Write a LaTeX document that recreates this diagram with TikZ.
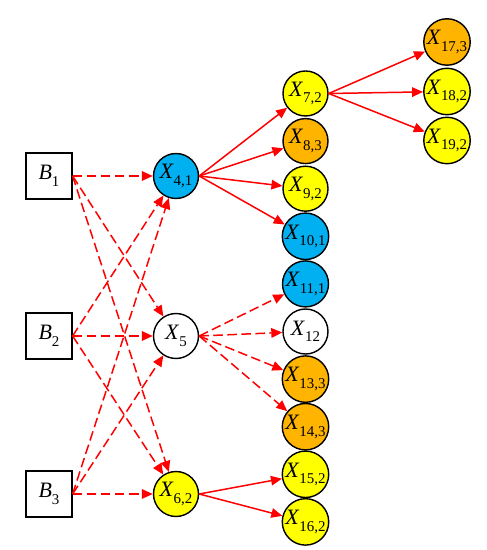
\documentclass[tikz,border=0pt]{standalone}
\usepackage{fontspec}
\setmainfont{Liberation Serif}
\usetikzlibrary{arrows.meta, positioning}

\definecolor{xblue}{RGB}{0,176,240}
\definecolor{xorange}{RGB}{255,180,0}
\definecolor{xyellow}{RGB}{255,255,0}

\newcommand{\subidx}[1]{\raisebox{-0.3em}{\fontsize{8.5}{9}\selectfont #1}}
\newcommand{\xn}[1]{\textit{X}\subidx{#1}}

\begin{document}
\begin{tikzpicture}[
			font=\fontsize{12.5}{15}\selectfont,
			bnode/.style={
				draw=black,
				fill=white,
				rectangle,
				line width=0.7pt,
				minimum size=0.92cm,
				inner sep=0pt
			},
			xnode/.style={
				draw=black,
				circle,
				line width=0.8pt,
				minimum size=0.9cm,
				inner sep=0pt
			},
			solidarrow/.style={-{Triangle[length=0.22cm, width=0.19cm]}, line width=0.85pt, color=red},
			dasharrow/.style={solidarrow, dash pattern=on 5.5pt off 2.5pt} % dashed edges
			]
			\useasboundingbox (0,0) rectangle (9.74,11);
			
			% -------- Sources --------
			\node[bnode] (b1) at (0.98,7.48) {\textit{B}\subidx{1}};
			\node[bnode] (b2) at (0.98,4.28) {\textit{B}\subidx{2}};
			\node[bnode] (b3) at (0.98,1.12) {\textit{B}\subidx{3}};
			
			% -------- Middle column --------
			\node[xnode, fill=xblue] (x4) at (3.52,7.48) {\xn{4,1}};
			\node[xnode, fill=white] (x5) at (3.52,4.28) {\xn{5}};
			\node[xnode, fill=xyellow] (x6) at (3.52,1.12) {\xn{6,2}};
			
			% -------- Right column --------
			\node[xnode, fill=xyellow] (x7) at (6.11,9.13) {\xn{7,2}};
			\node[xnode, fill=xorange] (x8) at (6.11,8.178) {\xn{8,3}};
			\node[xnode, fill=xyellow] (x9) at (6.11,7.226) {\xn{9,2}};
			\node[xnode, fill=xblue] (x10) at (6.11,6.274) {\xn{10,1}};
			\node[xnode, fill=xblue] (x11) at (6.11,5.322) {\xn{11,1}};
			\node[xnode, fill=white] (x12) at (6.11,4.37) {\xn{12}};
			\node[xnode, fill=xorange] (x13) at (6.11,3.418) {\xn{13,3}};
			\node[xnode, fill=xorange] (x14) at (6.11,2.466) {\xn{14,3}};
			\node[xnode, fill=xyellow] (x15) at (6.11,1.514) {\xn{15,2}};
			\node[xnode, fill=xyellow] (x16) at (6.11,0.562) {\xn{16,2}};
			
			% -------- Far column --------
			\node[xnode, fill=xorange] (x17) at (8.94,10.16) {\xn{17,3}};
			\node[xnode, fill=xyellow] (x18) at (8.94,9.17) {\xn{18,2}};
			\node[xnode, fill=xyellow] (x19) at (8.94,8.19) {\xn{19,2}};
			
			% -------- Edges --------
			\draw[dasharrow] (b1.east) -- (x4);
			\draw[dasharrow] (b1.east) -- (x5);
			\draw[dasharrow] (b1.east) -- (x6);
			\draw[dasharrow] (b2.east) -- (x4);
			\draw[dasharrow] (b2.east) -- (x5);
			\draw[dasharrow] (b2.east) -- (x6);
			\draw[dasharrow] (b3.east) -- (x4);
			\draw[dasharrow] (b3.east) -- (x5);
			\draw[dasharrow] (b3.east) -- (x6);
			
			\draw[solidarrow] (x4.east) -- (x7);
			\draw[solidarrow] (x4.east) -- (x8);
			\draw[solidarrow] (x4.east) -- (x9);
			\draw[solidarrow] (x4.east) -- (x10);
			
			\draw[dasharrow] (x5.east) -- (x11);
			\draw[dasharrow] (x5.east) -- (x12);
			\draw[dasharrow] (x5.east) -- (x13);
			\draw[dasharrow] (x5.east) -- (x14);
			
			\draw[solidarrow] (x6.east) -- (x15);
			\draw[solidarrow] (x6.east) -- (x16);
			
			\draw[solidarrow] (x7.east) -- (x17);
			\draw[solidarrow] (x7.east) -- (x18);
			\draw[solidarrow] (x7.east) -- (x19);
			
	\end{tikzpicture}
\end{document}
